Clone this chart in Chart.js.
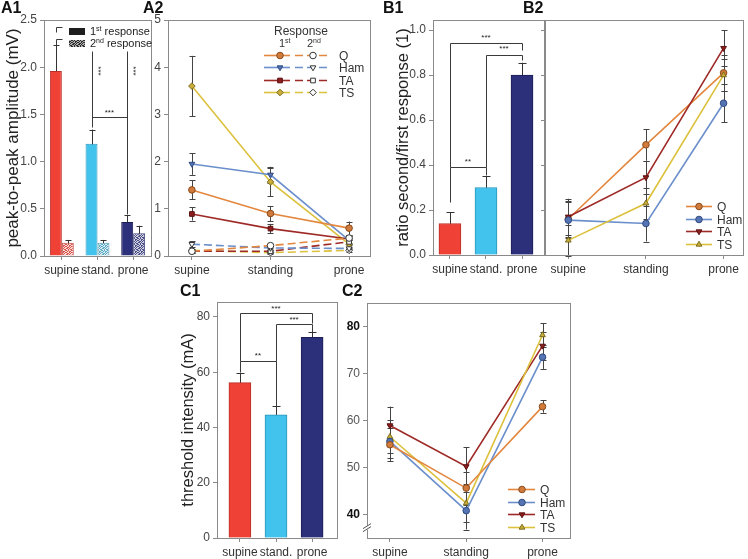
<!DOCTYPE html>
<html>
<head>
<meta charset="utf-8">
<title>Responses by body position</title>
<script src="https://cdn.jsdelivr.net/npm/chart.js@4.4.1/dist/chart.umd.min.js"></script>
<style>
  body { margin: 0; background: #fff; font-family: "Liberation Sans", Arial, sans-serif; }
  #fig { position: relative; width: 748px; height: 559px; overflow: hidden; }
  #fig canvas { position: absolute; }
  .tag { position: absolute; font-size: 16px; line-height: 16px; font-weight: bold; color: #111; }
</style>
</head>
<body>
<div id="fig">
  <canvas id="a1" width="156" height="285" style="left:0;top:0"></canvas>
  <canvas id="a2" width="225" height="285" style="left:150px;top:0"></canvas>
  <canvas id="b1" width="166" height="285" style="left:380px;top:0"></canvas>
  <canvas id="b2" width="208" height="285" style="left:540px;top:0"></canvas>
  <canvas id="c1" width="168" height="269" style="left:175px;top:290px"></canvas>
  <canvas id="c2" width="230" height="269" style="left:345px;top:290px"></canvas>
  <div class="tag" style="left:1px;top:0">A1</div>
  <div class="tag" style="left:143px;top:0">A2</div>
  <div class="tag" style="left:383px;top:0">B1</div>
  <div class="tag" style="left:523px;top:0">B2</div>
  <div class="tag" style="left:180px;top:283px">C1</div>
  <div class="tag" style="left:342px;top:283px">C2</div>
</div>
<script>
// ---------- data ----------
const positions = ['supine', 'standing', 'prone'];
const barLabels = ['supine', 'stand.', 'prone'];
const muscles = ['Q', 'Ham', 'TA', 'TS'];

// A1: peak-to-peak amplitude (mV), pooled
const amp1st = [1.96, 1.19, 0.36];
const amp1stErr = [0.27, 0.15, 0.07];
const amp2nd = [0.14, 0.14, 0.24];
const amp2ndErr = [0.03, 0.03, 0.08];
const ampTicks = [0, 0.5, 1.0, 1.5, 2.0, 2.5];

// A2: amplitude per muscle (mV), 1st and 2nd response
const q1st = [1.40, 0.90, 0.59],   q1stErr = [0.20, 0.16, 0.14];
const ham1st = [1.95, 1.72, 0.33], ham1stErr = [0.23, 0.17, 0.10];
const ta1st = [0.89, 0.58, 0.36],  ta1stErr = [0.14, 0.10, 0.08];
const ts1st = [3.60, 1.57, 0.25],  ts1stErr = [0.64, 0.30, 0.08];
const q2nd = [0.10, 0.22, 0.38],   q2ndErr = [0.04, 0.04, 0.05];
const ham2nd = [0.25, 0.17, 0.16], ham2ndErr = [0.06, 0.05, 0.04];
const ta2nd = [0.10, 0.10, 0.30],  ta2ndErr = [0.03, 0.03, 0.05];
const ts2nd = [0.12, 0.07, 0.12],  ts2ndErr = [0.03, 0.03, 0.03];
const a2Ticks = [0, 1, 2, 3, 4, 5];

// B1/B2: ratio second/first response
const ratio = [0.14, 0.30, 0.80];
const ratioErr = [0.05, 0.05, 0.055];
const qRatio = [0.16, 0.49, 0.81],    qRatioErr = [0.08, 0.07, 0.08];
const hamRatio = [0.155, 0.14, 0.675], hamRatioErr = [0.08, 0.08, 0.085];
const taRatio = [0.17, 0.345, 0.92],  taRatioErr = [0.08, 0.075, 0.08];
const tsRatio = [0.065, 0.23, 0.80],  tsRatioErr = [0.07, 0.07, 0.07];
const ratioTicks = [0, 0.2, 0.4, 0.6, 0.8, 1.0];

// C1/C2: threshold intensity (mA)
const thresh = [56.2, 44.6, 72.6];
const threshErr = [3.6, 3.0, 1.9];
const qThresh = [54.9, 45.7, 63.0],   qThreshErr = [3.5, 3.5, 1.3];
const hamThresh = [55.6, 40.9, 73.5], hamThreshErr = [3.5, 4.0, 2.5];
const taThresh = [59.0, 50.3, 75.9],  taThreshErr = [4.0, 4.1, 3.0];
const tsThresh = [56.6, 42.5, 78.2],  tsThreshErr = [3.5, 4.0, 2.5];
const threshTicks = [0, 20, 40, 60, 80];
const c2Ticks = [40, 50, 60, 70, 80];

// ---------- look ----------
const FONT = '"Liberation Sans", Arial, sans-serif';
const FRAME = '#8a8a8a';
const RED = '#ef4136', CYAN = '#41c3ee', NAVY = '#2c2f7a';
const COL = {
  Q:   { line: '#e3873f', fill: '#d07b3b', edge: '#8b4b1c' },
  Ham: { line: '#6b8fcb', fill: '#5574b3', edge: '#2f4a80' },
  TA:  { line: '#9e2a27', fill: '#8e1e1e', edge: '#5a1010' },
  TS:  { line: '#dcc13d', fill: '#c9ae3a', edge: '#7d6b1c' }
};

Chart.defaults.font.family = FONT;
Chart.defaults.font.size = 12;
Chart.defaults.color = '#444';
Chart.defaults.animation = false;
Chart.defaults.events = [];
Chart.defaults.plugins.legend.display = false;
Chart.defaults.plugins.tooltip.enabled = false;

function speckle(dark, light) {
  const c = document.createElement('canvas');
  c.width = c.height = 6;
  const g = c.getContext('2d');
  const bits = ['100101', '011010', '110100', '001011', '101001', '010110'];
  bits.forEach((row, y) => [...row].forEach((b, x) => {
    g.fillStyle = b === '1' ? dark : light;
    g.fillRect(x, y, 1, 1);
  }));
  return g.createPattern(c, 'repeat');
}

// frame round every plot area
Chart.register({
  id: 'frame',
  afterDraw(chart) {
    const { ctx, chartArea: a } = chart;
    ctx.save();
    ctx.strokeStyle = FRAME;
    ctx.lineWidth = 1;
    ctx.strokeRect(Math.floor(a.left) + 0.5, Math.floor(a.top) + 0.5, Math.round(a.right - a.left), Math.round(a.bottom - a.top));
    ctx.restore();
  }
});

// error bars from ds.errors
Chart.register({
  id: 'errorBars',
  beforeDatasetsDraw(chart) {
    const ctx = chart.ctx, ys = chart.scales.y;
    chart.data.datasets.forEach((ds, di) => {
      if (!ds.errors) return;
      const meta = chart.getDatasetMeta(di);
      ctx.save();
      ctx.strokeStyle = ds.errorColor || '#333';
      ctx.lineWidth = 1;
      meta.data.forEach((el, i) => {
        const raw = ds.data[i];
        const v = typeof raw === 'object' ? raw.y : raw;
        const e = ds.errors[i];
        const x = Math.round(el.x) + 0.5, cap = ds.capHalf || 3;
        const y1 = ys.getPixelForValue(v + e), y0 = ys.getPixelForValue(v - e);
        ctx.beginPath();
        ctx.moveTo(x, y0); ctx.lineTo(x, y1);
        ctx.moveTo(x - cap, Math.round(y1) + 0.5); ctx.lineTo(x + cap, Math.round(y1) + 0.5);
        ctx.moveTo(x - cap, Math.round(y0) + 0.5); ctx.lineTo(x + cap, Math.round(y0) + 0.5);
        ctx.stroke();
      });
      ctx.restore();
    });
  }
});

// significance brackets, in bar index / value coordinates
Chart.register({
  id: 'annotate',
  afterDatasetsDraw(chart, args, opts) {
    if (!opts.lines) return;
    const ctx = chart.ctx, ys = chart.scales.y;
    const bx = i => chart.getDatasetMeta(0).data[i].x;
    const P = p => [Math.round(bx(p[0]) + (p[2] || 0)) + 0.5, Math.round(ys.getPixelForValue(p[1])) + 0.5];
    ctx.save();
    ctx.strokeStyle = '#3a3a3a';
    ctx.lineWidth = 1;
    opts.lines.forEach(line => {
      ctx.beginPath();
      line.forEach((p, k) => { const [x, y] = P(p); k ? ctx.lineTo(x, y) : ctx.moveTo(x, y); });
      ctx.stroke();
    });
    ctx.fillStyle = '#222';
    ctx.font = '8px ' + FONT;
    ctx.textAlign = 'center';
    ctx.textBaseline = 'alphabetic';
    (opts.stars || []).forEach(s => {
      const x = s.mid ? (bx(s.mid[0]) + bx(s.mid[1])) / 2 : bx(s.at) + (s.dx || 0);
      const y = ys.getPixelForValue(s.y);
      if (s.rotate) {
        ctx.save(); ctx.translate(x, y); ctx.rotate(Math.PI / 2);
        ctx.fillText('***', 0, 0); ctx.restore();
      } else {
        ctx.fillText(s.text || '***', x, y);
      }
    });
    ctx.restore();
  }
});

function supText(ctx, x, y, base, sup, size) {
  ctx.font = size + 'px ' + FONT;
  ctx.fillText(base, x, y);
  const w = ctx.measureText(base).width;
  ctx.font = Math.round(size * 0.65) + 'px ' + FONT;
  ctx.fillText(sup, x + w, y - size * 0.35);
  return x + w + ctx.measureText(sup).width;
}

function marker(ctx, style, rot, x, y, fill, edge, r) {
  ctx.fillStyle = fill;
  ctx.strokeStyle = edge;
  ctx.lineWidth = 1;
  Chart.helpers.drawPoint(ctx, { pointStyle: style, rotation: rot, radius: r, borderWidth: 1 }, x, y);
}

const a2Marks = { Q: ['circle', 0], Ham: ['triangle', 180], TA: ['rect', 0], TS: ['rectRot', 0] };
const lineMarks = { Q: ['circle', 0], Ham: ['circle', 0], TA: ['triangle', 180], TS: ['triangle', 0] };

function xPos(min, max, names) {
  const labels = names || positions;
  return {
    type: 'linear', min, max, offset: false,
    afterBuildTicks: s => { s.ticks = labels.map((p, i) => ({ value: i })); },
    afterFit: s => { s.height = 30; },
    ticks: { callback: v => labels[v], padding: 3, color: '#333', autoSkip: false, maxRotation: 0 },
    grid: { display: true, drawOnChartArea: false, tickLength: 4, color: FRAME, offset: false },
    border: { color: FRAME }
  };
}

function yAxis(min, max, ticks, width, fmt, title) {
  return {
    min, max,
    afterBuildTicks: s => { s.ticks = ticks.map(v => ({ value: v })); },
    afterFit: s => { s.width = width; },
    ticks: { callback: fmt, padding: 3, color: '#444' },
    grid: { display: true, drawOnChartArea: false, tickLength: 4, color: FRAME },
    border: { color: FRAME },
    title: title || { display: false }
  };
}

function lineSet(name, vals, errs, marks, dashed) {
  const c = COL[name];
  return {
    label: name,
    data: vals.map((v, i) => ({ x: i, y: v })),
    errors: errs,
    errorColor: '#444',
    borderColor: c.line,
    borderWidth: 1.6,
    borderDash: dashed ? [8, 4] : [],
    pointStyle: marks[name][0],
    pointRotation: marks[name][1],
    pointRadius: 3.3,
    pointBorderWidth: 1,
    pointBackgroundColor: dashed ? '#fff' : c.fill,
    pointBorderColor: dashed ? '#333' : c.edge
  };
}

function seriesLegend(chart, dx0, dx1, dxm, dxt, dys, marks) {
  const { ctx, chartArea: a } = chart;
  ctx.save();
  muscles.forEach((m, r) => {
    const y = Math.round(a.bottom - dys[r]) + 0.5, c = COL[m];
    ctx.strokeStyle = c.line; ctx.lineWidth = 1.6;
    ctx.beginPath(); ctx.moveTo(a.right - dx0, y); ctx.lineTo(a.right - dx1, y); ctx.stroke();
    marker(ctx, marks[m][0], marks[m][1], a.right - dxm, y, c.fill, c.edge, 3.3);
    ctx.fillStyle = '#333'; ctx.font = '12px ' + FONT;
    ctx.textAlign = 'left'; ctx.textBaseline = 'middle';
    ctx.fillText(m, a.right - dxt, y + 1);
  });
  ctx.restore();
}

const titleFont = { size: 17, family: FONT };

// ---------- A1 ----------
new Chart(document.getElementById('a1'), {
  type: 'bar',
  data: {
    labels: barLabels,
    datasets: [
      { data: amp1st, errors: amp1stErr, capHalf: 3, backgroundColor: [RED, CYAN, NAVY],
        borderColor: ['#b8302a', '#2b95b8', '#1c1e55'], borderWidth: 1,
        categoryPercentage: 0.67, barPercentage: 1.0 },
      { data: amp2nd, errors: amp2ndErr, capHalf: 3,
        backgroundColor: [speckle('#d9574d', '#f6d8d4'), speckle('#5aaec8', '#dbe9ee'), speckle('#4a4d86', '#d0d2e0')],
        borderColor: ['#c0504a', '#5a9fb5', '#45487a'], borderWidth: 1,
        categoryPercentage: 0.67, barPercentage: 1.0 }
    ]
  },
  options: {
    responsive: false,
    layout: { padding: { top: 20, right: 5, left: 0, bottom: 0 } },
    scales: {
      x: {
        afterFit: s => { s.height = 29; },
        ticks: { padding: 3, color: '#333', maxRotation: 0, autoSkip: false },
        grid: { display: true, drawOnChartArea: false, tickLength: 4, color: FRAME, offset: false },
        border: { color: FRAME }
      },
      y: yAxis(0, 2.5, ampTicks, 44, v => v.toFixed(1),
        { display: true, text: 'peak-to-peak amplitude (mV)', font: titleFont, color: '#222', padding: { top: 3, bottom: 0 } })
    },
    plugins: {
      annotate: {
        lines: [
          [[0, 2.37], [0, 2.43], [0, 2.43, 6]],
          [[0, 2.23], [0, 2.30], [0, 2.30, 6]],
          [[1, 2.17], [1, 1.37]],
          [[1, 1.47], [2, 1.47]],
          [[2, 2.17], [2, 0.45]]
        ],
        stars: [
          { at: 1, dx: 4, y: 1.96, rotate: true },
          { at: 2, dx: 4, y: 1.96, rotate: true },
          { mid: [1, 2], y: 1.49 }
        ]
      }
    }
  },
  plugins: [{
    id: 'a1Legend',
    afterDraw(chart) {
      const { ctx, chartArea: a } = chart;
      const swatches = ['#1e1e1e', speckle('#2a2a2a', '#b0b0b0')];
      const sups = [['1', 'st'], ['2', 'nd']];
      ctx.save();
      swatches.forEach((fill, r) => {
        const y = a.top + 8 + r * 12;
        ctx.fillStyle = fill;
        ctx.fillRect(a.left + 25, y, 16, 7);
        ctx.fillStyle = '#222';
        ctx.textAlign = 'left'; ctx.textBaseline = 'alphabetic';
        const x = supText(ctx, a.left + 46, y + 7, sups[r][0], sups[r][1], 11);
        ctx.font = '11px ' + FONT;
        ctx.fillText(' response', x, y + 7);
      });
      ctx.restore();
    }
  }]
});

// ---------- A2 ----------
new Chart(document.getElementById('a2'), {
  type: 'line',
  data: {
    datasets: [
      lineSet('Q', q2nd, q2ndErr, a2Marks, true),
      lineSet('Ham', ham2nd, ham2ndErr, a2Marks, true),
      lineSet('TA', ta2nd, ta2ndErr, a2Marks, true),
      lineSet('TS', ts2nd, ts2ndErr, a2Marks, true),
      lineSet('Q', q1st, q1stErr, a2Marks, false),
      lineSet('Ham', ham1st, ham1stErr, a2Marks, false),
      lineSet('TA', ta1st, ta1stErr, a2Marks, false),
      lineSet('TS', ts1st, ts1stErr, a2Marks, false)
    ]
  },
  options: {
    responsive: false,
    layout: { padding: { top: 20, right: 4, left: 0, bottom: 0 } },
    scales: {
      x: Object.assign(xPos(-0.304, 2.266), { afterFit: s => { s.height = 29; } }),
      y: yAxis(0, 5, a2Ticks, 18, v => String(v))
    }
  },
  plugins: [{
    id: 'a2Legend',
    afterDraw(chart) {
      const { ctx, chartArea: a } = chart;
      ctx.save();
      ctx.fillStyle = '#333';
      ctx.textAlign = 'center'; ctx.textBaseline = 'alphabetic';
      ctx.font = '12px ' + FONT;
      ctx.fillText('Response', a.left + 133, a.top + 15);
      ctx.textAlign = 'left';
      supText(ctx, a.left + 111, a.top + 27, '1', 'st', 11);
      supText(ctx, a.left + 139, a.top + 27, '2', 'nd', 11);
      muscles.forEach((m, r) => {
        const y = Math.round(a.top + 35 + r * 12.4) + 0.5, c = COL[m];
        ctx.strokeStyle = c.line; ctx.lineWidth = 1.6;
        ctx.setLineDash([]);
        ctx.beginPath(); ctx.moveTo(a.left + 96, y); ctx.lineTo(a.left + 122, y); ctx.stroke();
        ctx.setLineDash([8, 4]);
        ctx.beginPath(); ctx.moveTo(a.left + 127, y); ctx.lineTo(a.left + 162, y); ctx.stroke();
        ctx.setLineDash([]);
        marker(ctx, a2Marks[m][0], a2Marks[m][1], a.left + 112, y, c.fill, c.edge, 3.3);
        marker(ctx, a2Marks[m][0], a2Marks[m][1], a.left + 145, y, '#fff', '#333', 3.3);
        ctx.fillStyle = '#333'; ctx.font = '12px ' + FONT;
        ctx.textBaseline = 'middle';
        ctx.fillText(m, a.left + 171, y + 1);
        ctx.textBaseline = 'alphabetic';
      });
      ctx.restore();
    }
  }]
});

// ---------- B1 ----------
new Chart(document.getElementById('b1'), {
  type: 'bar',
  data: {
    datasets: [{
      data: ratio.map((v, i) => ({ x: i, y: v })),
      errors: ratioErr, capHalf: 4,
      backgroundColor: [RED, CYAN, NAVY],
      borderColor: ['#b8302a', '#2b95b8', '#1c1e55'], borderWidth: 1,
      barThickness: 22
    }]
  },
  options: {
    responsive: false,
    layout: { padding: { top: 20, right: 2, left: 0, bottom: 0 } },
    scales: {
      x: xPos(-0.47, 2.61, barLabels),
      y: yAxis(0, 1.045, ratioTicks, 53, v => v.toFixed(1),
        { display: true, text: 'ratio second/first response (1)', font: { size: 16.5, family: FONT }, color: '#222', padding: { top: 14, bottom: 0 } })
    },
    plugins: {
      annotate: {
        lines: [
          [[0, 0.235], [0, 0.39], [1, 0.39], [1, 0.355]],
          [[0, 0.39], [0, 0.942], [2, 0.942], [2, 0.91]],
          [[1, 0.39], [1, 0.89], [2, 0.89], [2, 0.865]]
        ],
        stars: [
          { mid: [0, 1], y: 0.405, text: '**' },
          { mid: [0, 2], y: 0.957 },
          { mid: [1, 2], y: 0.905 }
        ]
      }
    }
  }
});

// ---------- B2 ----------
new Chart(document.getElementById('b2'), {
  type: 'line',
  data: {
    datasets: [
      lineSet('TS', tsRatio, tsRatioErr, lineMarks, false),
      lineSet('Ham', hamRatio, hamRatioErr, lineMarks, false),
      lineSet('TA', taRatio, taRatioErr, lineMarks, false),
      lineSet('Q', qRatio, qRatioErr, lineMarks, false)
    ]
  },
  options: {
    responsive: false,
    layout: { padding: { top: 20, right: 4, left: 0, bottom: 0 } },
    scales: {
      x: xPos(-0.3, 2.25),
      y: Object.assign(yAxis(0, 1.045, ratioTicks, 4, v => ''), { ticks: { display: false } })
    }
  },
  plugins: [{
    id: 'b2Legend',
    afterDraw(chart) { seriesLegend(chart, 57, 31, 44, 26, [49, 36, 24, 11], lineMarks); }
  }]
});

// ---------- C1 ----------
new Chart(document.getElementById('c1'), {
  type: 'bar',
  data: {
    datasets: [{
      data: thresh.map((v, i) => ({ x: i, y: v })),
      errors: threshErr, capHalf: 4,
      backgroundColor: [RED, CYAN, NAVY],
      borderColor: ['#b8302a', '#2b95b8', '#1c1e55'], borderWidth: 1,
      barThickness: 22
    }]
  },
  options: {
    responsive: false,
    layout: { padding: { top: 12, right: 6, left: 0, bottom: 0 } },
    scales: {
      x: Object.assign(xPos(-0.635, 2.69, barLabels), { afterFit: s => { s.height = 21; } }),
      y: yAxis(0, 85.4, threshTicks, 42, v => String(v),
        { display: true, text: 'threshold intensity (mA)', font: { size: 16.5, family: FONT }, color: '#222', padding: { top: 4, bottom: 0 } })
    },
    plugins: {
      annotate: {
        lines: [
          [[0, 59.9], [0, 64.2], [1, 64.2], [1, 47.7]],
          [[0, 64.2], [0, 81.4], [2, 81.4], [2, 77.8]],
          [[1, 64.2], [1, 77.5], [2, 77.5], [2, 74.6]]
        ],
        stars: [
          { mid: [0, 1], y: 65.0, text: '**' },
          { mid: [0, 2], y: 82.2 },
          { mid: [1, 2], y: 78.3 }
        ]
      }
    }
  }
});

// ---------- C2 ----------
new Chart(document.getElementById('c2'), {
  type: 'line',
  data: {
    datasets: [
      lineSet('Q', qThresh, qThreshErr, lineMarks, false),
      lineSet('Ham', hamThresh, hamThreshErr, lineMarks, false),
      lineSet('TS', tsThresh, tsThreshErr, lineMarks, false),
      lineSet('TA', taThresh, taThreshErr, lineMarks, false)
    ]
  },
  options: {
    responsive: false,
    layout: { padding: { top: 13, right: 5, left: 0, bottom: 0 } },
    scales: {
      x: Object.assign(xPos(-0.3, 2.36), { afterFit: s => { s.height = 21; } }),
      y: Object.assign(yAxis(35.1, 85, c2Ticks, 22, v => String(v)), {
        ticks: {
          callback: v => String(v), padding: 3,
          color: c => (c.tick && (c.tick.value === 40 || c.tick.value === 80)) ? '#111' : '#555',
          font: c => ({ size: 12, family: FONT, weight: (c.tick && (c.tick.value === 40 || c.tick.value === 80)) ? 'bold' : 'normal' })
        }
      })
    }
  },
  plugins: [{
    id: 'c2Extras',
    afterDraw(chart) {
      const { ctx, chartArea: a } = chart;
      const y = chart.scales.y.getPixelForValue(37.3);
      ctx.save();
      ctx.fillStyle = '#fff';
      ctx.fillRect(a.left - 1, y - 2, 3, 4);
      ctx.strokeStyle = '#555'; ctx.lineWidth = 1;
      ctx.beginPath();
      ctx.moveTo(a.left - 4, y + 1); ctx.lineTo(a.left + 4, y - 4);
      ctx.moveTo(a.left - 4, y + 4); ctx.lineTo(a.left + 4, y - 1);
      ctx.stroke();
      ctx.restore();
      seriesLegend(chart, 62, 35, 48, 30, [49, 36, 24, 11], lineMarks);
    }
  }]
});
</script>
</body>
</html>
